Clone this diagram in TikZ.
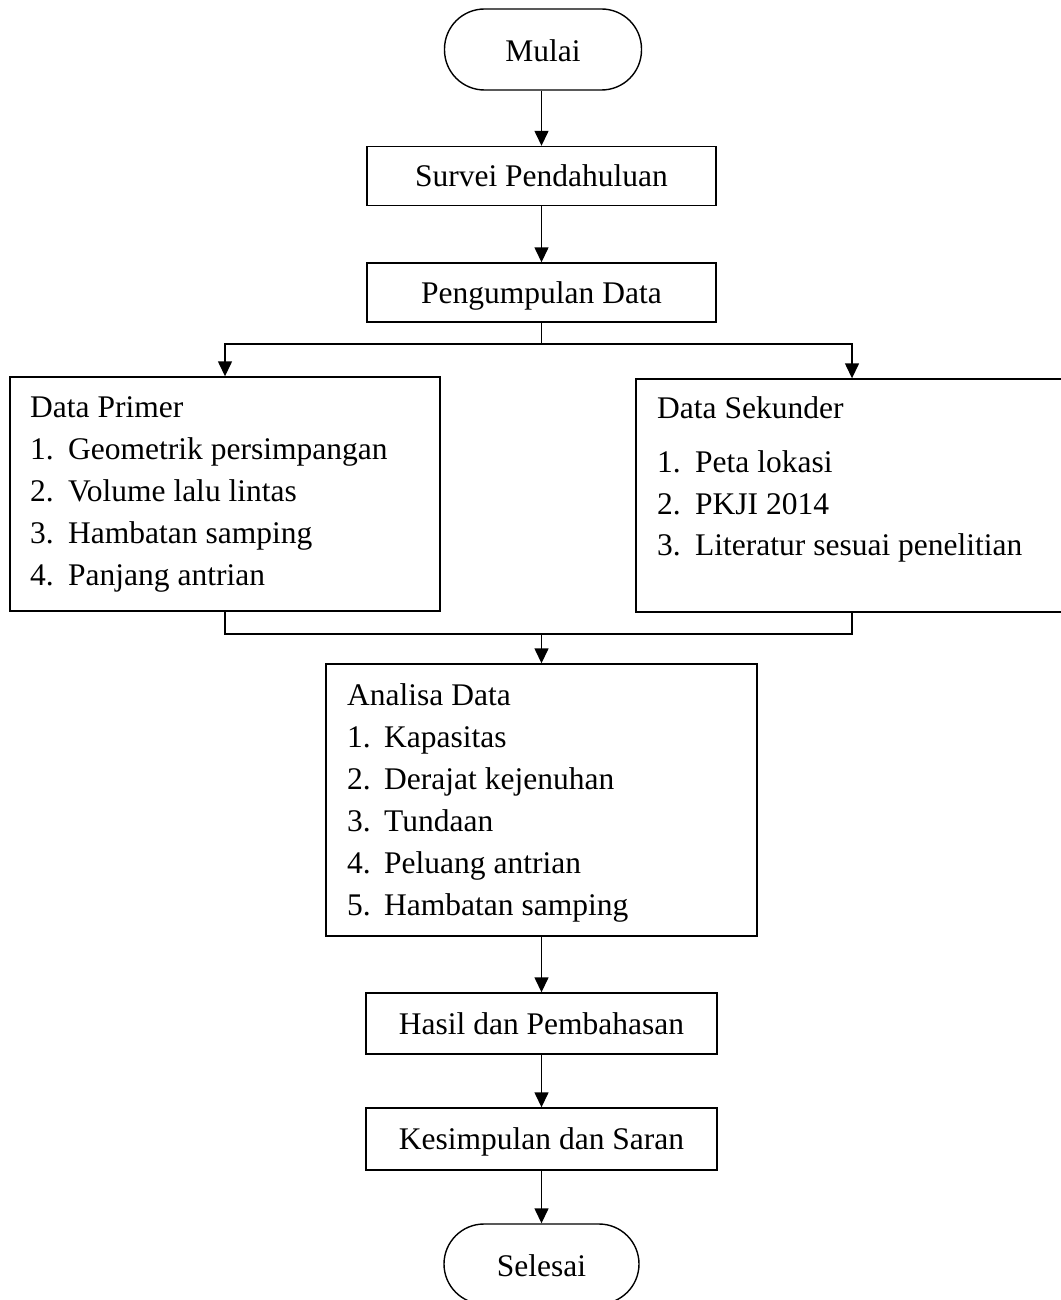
\documentclass[tikz,border=0pt]{standalone}
\usepackage{fontspec}
\setmainfont{Liberation Serif}
\usetikzlibrary{arrows.meta}
\begin{document}
\begin{tikzpicture}[x=1pt,y=-1pt,
 every node/.style={font=\fontsize{31.5}{42}\selectfont},
 box/.style={draw, line width=1.4pt, rectangle, inner sep=0pt, text height=21pt, text depth=0pt},
 term/.style={box, rounded corners=40pt, text height=25pt},
 txt/.style={anchor=base west, inner sep=0pt},
 conn/.style={line width=1.4pt},
 arr/.style={conn, -{Triangle[length=15pt,width=14pt]}}]
\useasboundingbox (0,0) rectangle (1060,1300);
\node[term, minimum width=197pt, minimum height=81pt] (mulai) at (543,49.5) {Mulai};
\node[box, minimum width=349pt, minimum height=59pt] (survei) at (541.5,176) {Survei Pendahuluan};
\node[box, minimum width=349pt, minimum height=59pt] (kumpul) at (541.5,292.5) {Pengumpulan Data};
\node[box, minimum width=430pt, minimum height=234pt] (primer) at (225,494) {};
\node[box, minimum width=432pt, minimum height=233pt] (sekunder) at (852,495.5) {};
\node[box, minimum width=431pt, minimum height=272pt] (analisa) at (541.5,800) {};
\node[box, minimum width=351pt, minimum height=61pt] (hasil) at (541.5,1023.5) {Hasil dan Pembahasan};
\node[box, minimum width=351pt, minimum height=62pt] (simpul) at (541.5,1139) {Kesimpulan dan Saran};
\node[term, minimum width=195pt, minimum height=80pt] (selesai) at (541.5,1264) {Selesai};
% Data Primer
\node[txt] (p0) at (30,417) {Data Primer};
\node[txt] (p1n) at (30,459) {1.};
\node[txt] (p1) at (68,459) {Geometrik persimpangan};
\node[txt] (p2n) at (30,501) {2.};
\node[txt] (p2) at (68,501) {Volume lalu lintas};
\node[txt] (p3n) at (30,543) {3.};
\node[txt] (p3) at (68,543) {Hambatan samping};
\node[txt] (p4n) at (30,585) {4.};
\node[txt] (p4) at (68,585) {Panjang antrian};
% Data Sekunder
\node[txt] (s0) at (657,418) {Data Sekunder};
\node[txt] (s1n) at (657,472) {1.};
\node[txt] (s1) at (695,472) {Peta lokasi};
\node[txt] (s2n) at (657,514) {2.};
\node[txt] (s2) at (695,514) {PKJI 2014};
\node[txt] (s3n) at (657,555) {3.};
\node[txt] (s3) at (695,555) {Literatur sesuai penelitian};
% Analisa
\node[txt] (a0) at (347,705) {Analisa Data};
\node[txt] (a1n) at (347,747) {1.};
\node[txt] (a1) at (384,747) {Kapasitas};
\node[txt] (a2n) at (347,789) {2.};
\node[txt] (a2) at (384,789) {Derajat kejenuhan};
\node[txt] (a3n) at (347,831) {3.};
\node[txt] (a3) at (384,831) {Tundaan};
\node[txt] (a4n) at (347,873) {4.};
\node[txt] (a4) at (384,873) {Peluang antrian};
\node[txt] (a5n) at (347,915) {5.};
\node[txt] (a5) at (384,915) {Hambatan samping};
% connectors
\coordinate (split) at (541.5,344);
\coordinate (merge) at (541.5,634);
\draw[arr] (mulai.south -| survei.north) -- (survei.north);
\draw[arr] (survei) -- (kumpul);
\draw[conn] (kumpul.south) -- (split);
\draw[arr] (split) -| (primer.north);
\draw[arr] (split) -| (sekunder.north);
\draw[conn] (primer.south) |- (merge) -| (sekunder.south);
\draw[arr] (merge) -- (analisa.north);
\draw[arr] (analisa) -- (hasil);
\draw[arr] (hasil) -- (simpul);
\draw[arr] (simpul) -- (selesai);
\end{tikzpicture}
\end{document}
